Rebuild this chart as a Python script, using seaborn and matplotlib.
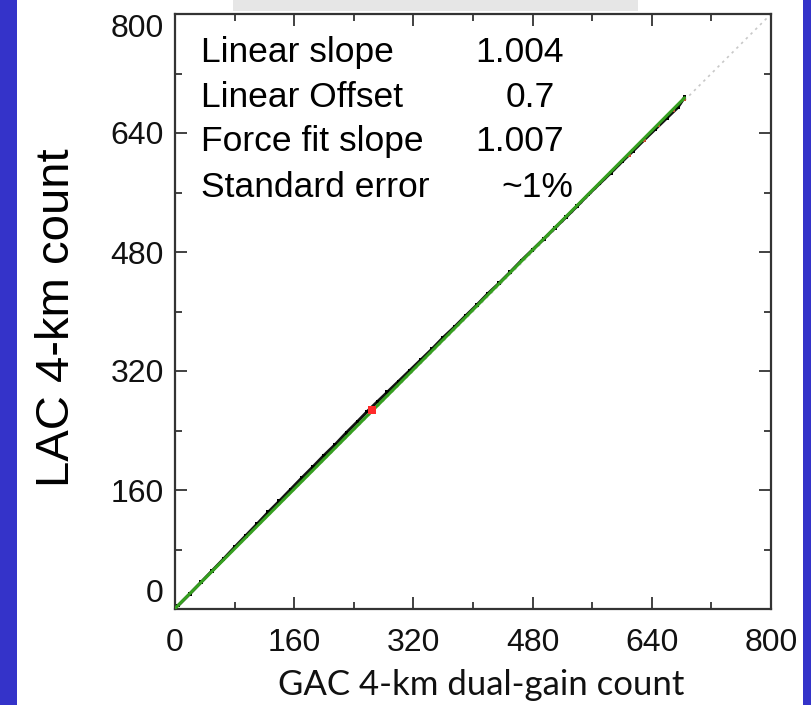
import matplotlib
matplotlib.use("Agg")
import matplotlib.pyplot as plt
import matplotlib.patches as mpatches
from matplotlib.ticker import MultipleLocator
import seaborn as sns
import pandas as pd

# ---- data ----
gac = [4, 20, 35, 50, 65, 80, 95, 110, 125, 140, 155, 170, 185, 200, 215, 230,
       245, 258, 272, 285, 300, 315, 330, 345, 360, 375, 390, 405, 420, 435,
       450, 465, 480, 495, 510, 525, 540, 555, 570, 585, 600, 615, 630, 645,
       660, 675, 684]
lac = [4.5, 20.5, 36, 51.5, 67, 83, 98.5, 114, 130, 145, 160.5, 176, 191, 206.5,
       221, 237, 252, 265.5, 279, 291.5, 306, 320.5, 335, 349.5, 365, 379,
       394, 408.5, 424, 438, 453, 468.5, 483, 497.5, 512.5, 527, 542, 557.5,
       572, 586.5, 601.5, 616, 631, 645.5, 660, 674.5, 688]
red_gac = [264, 610, 630, 650, 670, 684]
red_lac = [268, 610, 630, 650, 670, 685]
fit_gac = [0, 684]
fit_lac = [0.7, 687.4]
one_to_one = [0, 800]
ticks = [0, 160, 320, 480, 640, 800]
stat_names = ["Linear slope", "Linear Offset", "Force fit slope", "Standard error"]
stat_values = ["1.004", "0.7", "1.007", "~1%"]

sns.set_theme(style="white")
plt.rcParams["font.family"] = ["Liberation Sans", "DejaVu Sans"]

W, H = 811, 705
fig = plt.figure(figsize=(W / 100, H / 100), dpi=100)
fig.patch.set_facecolor("white")
blue = "#3433C9"
fig.patches.append(mpatches.Rectangle((0, 0), 17 / W, 1, transform=fig.transFigure,
                                      facecolor=blue, edgecolor="none", zorder=0))
fig.patches.append(mpatches.Rectangle((803 / W, 0), 8 / W, 1, transform=fig.transFigure,
                                      facecolor=blue, edgecolor="none", zorder=0))
fig.patches.append(mpatches.Rectangle((233 / W, 1 - 11 / H), 405 / W, 11 / H,
                                      transform=fig.transFigure,
                                      facecolor="#e6e6e6", edgecolor="none", zorder=0))

ax = fig.add_axes([175 / W, 1 - 609 / H, 596 / W, 595 / H])
ax.set_facecolor("white")

ax.plot(one_to_one, one_to_one, color="#c8c8c8", lw=1.2, ls=(0, (1.5, 2.5)), zorder=1)
df = pd.DataFrame({"gac": gac, "lac": lac})
sns.lineplot(data=df, x="gac", y="lac", color="#111111", lw=2.2, ax=ax, zorder=2,
             estimator=None, sort=False)
sns.scatterplot(data=df, x="gac", y="lac", color="black", s=7, marker="s",
                edgecolor="none", ax=ax, zorder=3)
sns.scatterplot(x=red_gac[1:], y=red_lac[1:], color="#c84830", s=3, marker="s",
                edgecolor="none", ax=ax, zorder=3)
sns.lineplot(x=fit_gac, y=fit_lac, color="#36a020", lw=2.2, ax=ax, zorder=4)
sns.scatterplot(x=red_gac[:1], y=red_lac[:1], color="#ff2a2a", s=36, marker="s",
                edgecolor="none", ax=ax, zorder=5)

ax.set_xlim(0, 800)
ax.set_ylim(0, 800)
ax.xaxis.set_minor_locator(MultipleLocator(80))
ax.yaxis.set_minor_locator(MultipleLocator(80))
ax.set_xticks(ticks)
ax.set_yticks(ticks)
ax.set_xticklabels([str(t) for t in ticks])
ax.set_yticklabels([str(t) for t in ticks])
ax.tick_params(which="both", direction="in", top=True, right=True, bottom=True, left=True,
               color="#333333", width=1.3)
ax.tick_params(which="major", length=8.6, labelsize=23, labelcolor="#111111")
ax.tick_params(which="minor", length=5)
ax.tick_params(axis="y", which="major", pad=8)
ax.tick_params(axis="x", which="major", pad=14)
ylabs = ax.get_yticklabels()
ylabs[0].set_va("bottom")
ylabs[-1].set_va("top")
for s in ax.spines.values():
    s.set_color("#333333")
    s.set_linewidth(1.6)

ax.set_xlabel("GAC 4-km dual-gain count", fontsize=25, family=["Lato", "DejaVu Sans"],
              color="#111111")
ax.xaxis.label.set_va("center")
ax.xaxis.set_label_coords(0.513, -0.128)
ax.set_ylabel("LAC 4-km count", fontsize=34, color="black")
ax.yaxis.label.set_va("center")
ax.yaxis.set_label_coords(-0.198, 0.49)

row_y = [0.936, 0.860, 0.785, 0.709]
val_x = [0.503, 0.554, 0.503, 0.547]
for name, val, yy, vx in zip(stat_names, stat_values, row_y, val_x):
    ax.text(0.0436, yy, name, transform=ax.transAxes, fontsize=25.5, va="center",
            ha="left", color="black")
    ax.text(vx, yy, val, transform=ax.transAxes, fontsize=25.5, va="center",
            ha="left", color="black")

fig.savefig("out.png", dpi=100, facecolor=fig.get_facecolor())
